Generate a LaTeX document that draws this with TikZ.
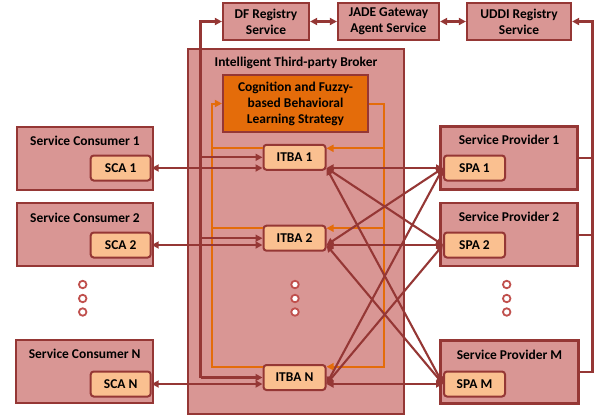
\documentclass[tikz,border=0pt]{standalone}
\usepackage{fontspec}
\setmainfont{Carlito}
\usetikzlibrary{arrows.meta}
\definecolor{boxfill}{HTML}{D99694}
\definecolor{boxline}{HTML}{953735}
\definecolor{innerfill}{HTML}{FAC090}
\definecolor{cogfill}{HTML}{E46C0A}
\definecolor{dotc}{HTML}{C0504D}
\tikzset{
  outerbox/.style={draw=boxline, fill=boxfill, line width=2.2bp, inner sep=0pt, align=center},
  innerbox/.style={draw=boxline, fill=innerfill, line width=2bp, rounded corners=3bp, inner sep=0pt, minimum width=60bp, minimum height=25bp},
  cogbox/.style={draw=boxline, fill=cogfill, line width=2.2bp, inner sep=0pt, align=center, minimum width=145bp, minimum height=57bp},
  redln/.style={draw=boxline, line width=2.1bp},
  orln/.style={draw=cogfill, line width=2bp},
  tip/.style={-{Triangle[length=7bp,width=7bp]}},
  tips/.style={{Triangle[length=7bp,width=7bp]}-{Triangle[length=7bp,width=7bp]}},
  dotmark/.style={circle, draw=dotc, fill=white, line width=1.8bp, inner sep=0pt, minimum size=7.5bp},
  lbl/.style={inner sep=0pt}
}
\begin{document}
\begin{tikzpicture}[x=1bp,y=-1bp, font=\bfseries\fontsize{13.5}{16}\selectfont]
\useasboundingbox (0,0) rectangle (600,416);
% top services
\node[outerbox, minimum width=86bp, minimum height=37bp] (DF) at (266,21.5) {DF Registry\\Service};
\node[outerbox, minimum width=101bp, minimum height=37bp] (JADE) at (388.5,21.5) {JADE Gateway\\Agent Service};
\node[outerbox, minimum width=104bp, minimum height=37bp] (UDDI) at (519,21.5) {UDDI Registry\\Service};
% broker
\node[outerbox, minimum width=216bp, minimum height=365bp] (broker) at (296,231.5) {};
\node[lbl] (brokert) at (296,63) {Intelligent Third-party Broker};
\node[cogbox] (cog) at (295.5,103.5) {Cognition and Fuzzy-\\based Behavioral\\Learning Strategy};
\node[innerbox, minimum width=62bp] (I1) at (294.5,157.3) {ITBA 1};
\node[innerbox, minimum width=62bp] (I2) at (294.5,238.2) {ITBA 2};
\node[innerbox, minimum width=62bp] (IN) at (294.5,377.5) {ITBA N};
% consumers
\node[outerbox, minimum width=136bp, minimum height=63bp] (SC1) at (85,158.3) {};
\node[lbl] (SC1t) at (85,141) {Service Consumer 1};
\node[innerbox] (SCA1) at (120.7,168) {SCA 1};
\node[outerbox, minimum width=136bp, minimum height=63bp] (SC2) at (85,234.5) {};
\node[lbl] (SC2t) at (85,217.5) {Service Consumer 2};
\node[innerbox] (SCA2) at (120.7,245) {SCA 2};
\node[outerbox, minimum width=137bp, minimum height=63bp] (SCN) at (84.7,371.7) {};
\node[lbl] (SCNt) at (84.7,354) {Service Consumer N};
\node[innerbox] (SCAN) at (120.7,384) {SCA N};
% providers
\node[outerbox, minimum width=137bp, minimum height=63bp] (SP1) at (509,157.9) {};
\node[lbl] (SP1t) at (509,140) {Service Provider 1};
\node[innerbox, minimum width=61bp] (SPA1) at (474.5,168) {SPA 1};
\node[outerbox, minimum width=137bp, minimum height=63bp] (SP2) at (509,234.7) {};
\node[lbl] (SP2t) at (509,217) {Service Provider 2};
\node[innerbox, minimum width=61bp] (SPA2) at (474.5,245) {SPA 2};
\node[outerbox, minimum width=138bp, minimum height=63bp] (SPM) at (509.5,372) {};
\node[lbl] (SPMt) at (509.5,354.5) {Service Provider M};
\node[innerbox, minimum width=61bp] (SPAM) at (474.5,384) {SPA M};
% dots
\foreach \x/\n in {82.7/L,295/C,506.7/R}{
  \node[dotmark] (d\n1) at (\x,284.5) {};
  \node[dotmark] (d\n2) at (\x,298.5) {};
  \node[dotmark] (d\n3) at (\x,312) {};
}
% orange feedback loops
\coordinate (ol) at (211.5,0);
\coordinate (or) at (384,0);
\coordinate (o1w) at ([yshift=-4.5bp]I1.north west);
\coordinate (o2w) at ([yshift=-3.5bp]I2.north west);
\coordinate (oNw) at ([yshift=-2.7bp]IN.north west);
\coordinate (o1e) at ([yshift=-4.5bp]I1.north east);
\coordinate (o2e) at ([yshift=-3.5bp]I2.north east);
\coordinate (oNe) at ([yshift=-2.7bp]IN.north east);
\path[orln,tip] (oNw) -| (ol |- cog.west) -- (cog.west);
\path[orln] (o1w) -- (ol |- o1w);
\path[orln] (o2w) -- (ol |- o2w);
\path[orln,tip] (cog.east) -| (or |- oNe) -- (oNe);
\path[orln,tip] (or |- o1e) -- (o1e);
\path[orln,tip] (or |- o2e) -- (o2e);
% DF line to ITBAs
\coordinate (vl) at (200.5,0);
\path[redln,tip] (vl |- IN.west) -- (vl |- DF.west) -- (DF.west);
\path[redln,tip] (vl |- I1.west) -- (I1.west);
\path[redln,tip] (vl |- I2.west) -- (I2.west);
\path[redln,tip] (vl |- IN.west) -- (IN.west);
% top links
\path[redln,tips] (DF.east) -- (JADE.west);
\path[redln,tips] (JADE.east) -- (UDDI.west);
% UDDI line to providers
\coordinate (vr) at (592.5,0);
\path[redln,tip] (SPM.east) -- (vr |- SPM.east) -- (vr |- UDDI.east) -- (UDDI.east);
\path[redln] (SP1.east) -- (vr |- SP1.east);
\path[redln] (SP2.east) -- (vr |- SP2.east);
% consumer links
\path[redln,tips] (SCA1.east) -- (I1.west |- SCA1.east);
\path[redln,tips] (SCA2.east) -- (I2.west |- SCA2.east);
\path[redln,tips] (SCAN.east) -- (IN.west |- SCAN.east);
% ITBA - SPA mesh
\coordinate (t1) at (I1.east |- SPA1.west);
\coordinate (t2) at (I2.east |- SPA2.west);
\coordinate (tN) at (IN.east |- SPAM.west);
\foreach \a in {t1,t2,tN}{
  \foreach \b in {SPA1,SPA2,SPAM}{
    \path[redln,tips] (\a) -- (\b.west);
  }
}
\end{tikzpicture}
\end{document}
